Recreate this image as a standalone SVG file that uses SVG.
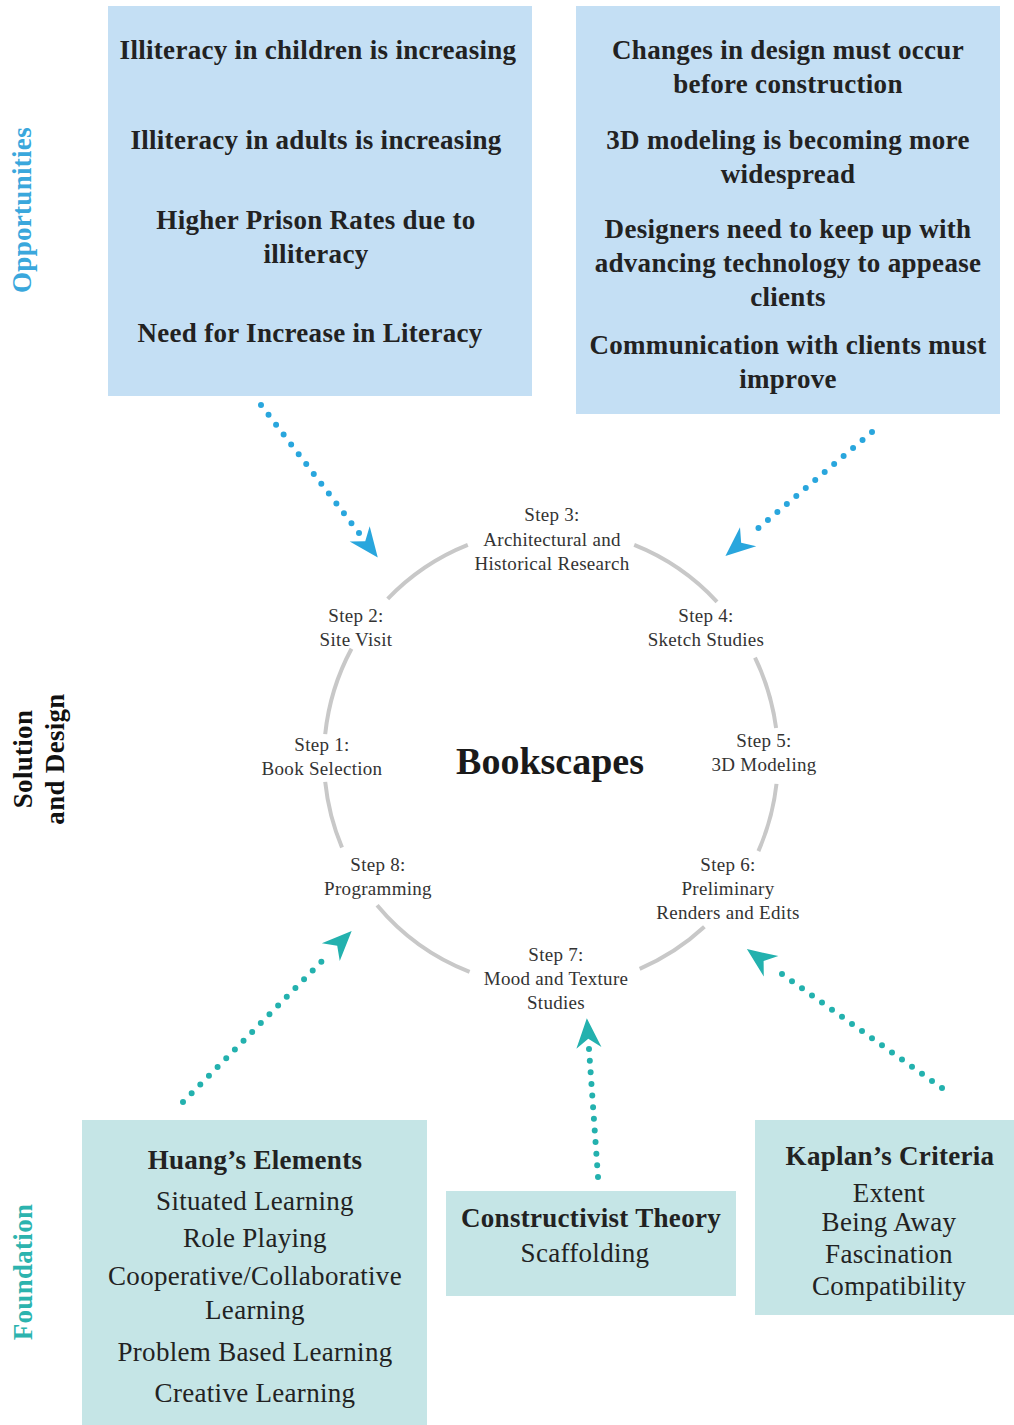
<svg xmlns="http://www.w3.org/2000/svg" width="1014" height="1425" viewBox="0 0 1014 1425">
<style>
  .bg { fill: #ffffff; }
  .boxB { fill: #c4dff4; }
  .boxT { fill: #c5e5e6; }
  .big { font-family: "Liberation Serif", "Times New Roman", serif; font-size: 27px; letter-spacing: 0.3px; fill: #222; text-anchor: middle; }
  .b { font-weight: bold; }
  .step { font-family: "Liberation Serif", "Times New Roman", serif; font-size: 19px; letter-spacing: 0.3px; fill: #333; text-anchor: middle; }
  .side { font-family: "Liberation Serif", "Times New Roman", serif; font-size: 27px; font-weight: bold; letter-spacing: 0.3px; text-anchor: middle; }
  .ring { fill: none; stroke: #c8c8c8; stroke-width: 4; }
  .dotB { fill: none; stroke: #29a6dd; stroke-width: 6; stroke-linecap: round; stroke-dasharray: 0 1; }
  .dotT { fill: none; stroke: #23b1ae; stroke-width: 6; stroke-linecap: round; stroke-dasharray: 0 1; }
</style>
<defs>
  <marker id="headB" markerUnits="userSpaceOnUse" markerWidth="40" markerHeight="40" viewBox="-5 -15 35 30" refX="0" refY="0" orient="auto">
    <path d="M27,0 L1,-11 L9,0 L1,11 Z" fill="#29a6dd"/>
  </marker>
  <marker id="headT" markerUnits="userSpaceOnUse" markerWidth="40" markerHeight="40" viewBox="-5 -15 35 30" refX="0" refY="0" orient="auto">
    <path d="M27,0 L1,-11 L9,0 L1,11 Z" fill="#23b1ae"/>
  </marker>
</defs>
<rect class="bg" x="0" y="0" width="1014" height="1425"/>

<!-- side labels -->
<text class="side" fill="#3aa7dc" transform="translate(31,210) rotate(-90)">Opportunities</text>
<g id="solution-label">
  <text class="side" fill="#111" transform="translate(32,759) rotate(-90)">Solution</text>
  <text class="side" fill="#111" transform="translate(64,759) rotate(-90)">and Design</text>
</g>
<text class="side" fill="#2cb3ae" transform="translate(32,1272) rotate(-90)">Foundation</text>

<!-- top boxes -->
<g id="opp-left">
  <rect class="boxB" x="108" y="6" width="424" height="390"/>
  <text class="big b" x="318" y="59">Illiteracy in children is increasing</text>
  <text class="big b" x="316" y="149">Illiteracy in adults is increasing</text>
  <text class="big b" x="316" y="229">Higher Prison Rates due to</text>
  <text class="big b" x="316" y="263">illiteracy</text>
  <text class="big b" x="310" y="342">Need for Increase in Literacy</text>
</g>
<g id="opp-right">
  <rect class="boxB" x="576" y="6" width="424" height="408"/>
  <text class="big b" x="788" y="59">Changes in design must occur</text>
  <text class="big b" x="788" y="93">before construction</text>
  <text class="big b" x="788" y="149">3D modeling is becoming more</text>
  <text class="big b" x="788" y="183">widespread</text>
  <text class="big b" x="788" y="238">Designers need to keep up with</text>
  <text class="big b" x="788" y="272">advancing technology to appease</text>
  <text class="big b" x="788" y="306">clients</text>
  <text class="big b" x="788" y="354">Communication with clients must</text>
  <text class="big b" x="788" y="388">improve</text>
</g>

<!-- cycle ring -->
<g id="ring">
  <path class="ring" d="M 634.2 544.9 A 227 229 0 0 1 717.0 601.8"/>
  <path class="ring" d="M 755.0 657.6 A 227 229 0 0 1 776.1 728.1"/>
  <path class="ring" d="M 776.5 783.9 A 227 229 0 0 1 758.4 851.1"/>
  <path class="ring" d="M 704.4 926.8 A 227 229 0 0 1 639.7 968.8"/>
  <path class="ring" d="M 469.6 971.8 A 227 229 0 0 1 377.1 905.2"/>
  <path class="ring" d="M 342.0 847.5 A 227 229 0 0 1 325.2 781.9"/>
  <path class="ring" d="M 325.2 734.1 A 227 229 0 0 1 351.5 648.7"/>
  <path class="ring" d="M 387.7 598.9 A 227 229 0 0 1 467.8 544.9"/>
</g>

<g id="center"><text x="550" y="774" font-family="Liberation Serif, Times New Roman, serif" font-size="38" font-weight="bold" fill="#1a1a1a" text-anchor="middle">Bookscapes</text></g>

<g id="step3"><text class="step" x="552" y="521">Step 3:</text><text class="step" x="552" y="546">Architectural and</text><text class="step" x="552" y="570">Historical Research</text></g>
<g id="step2"><text class="step" x="356" y="622">Step 2:</text><text class="step" x="356" y="646">Site Visit</text></g>
<g id="step4"><text class="step" x="706" y="622">Step 4:</text><text class="step" x="706" y="646">Sketch Studies</text></g>
<g id="step1"><text class="step" x="322" y="751">Step 1:</text><text class="step" x="322" y="775">Book Selection</text></g>
<g id="step5"><text class="step" x="764" y="747">Step 5:</text><text class="step" x="764" y="771">3D Modeling</text></g>
<g id="step8"><text class="step" x="378" y="871">Step 8:</text><text class="step" x="378" y="895">Programming</text></g>
<g id="step6"><text class="step" x="728" y="871">Step 6:</text><text class="step" x="728" y="895">Preliminary</text><text class="step" x="728" y="919">Renders and Edits</text></g>
<g id="step7"><text class="step" x="556" y="961">Step 7:</text><text class="step" x="556" y="985">Mood and Texture</text><text class="step" x="556" y="1009">Studies</text></g>

<!-- bottom boxes -->
<g id="huang">
  <rect class="boxT" x="82" y="1120" width="345" height="305"/>
  <text class="big b" x="255" y="1169">Huang’s Elements</text>
  <text class="big" x="255" y="1210">Situated Learning</text>
  <text class="big" x="255" y="1247">Role Playing</text>
  <text class="big" x="255" y="1285">Cooperative/Collaborative</text>
  <text class="big" x="255" y="1319">Learning</text>
  <text class="big" x="255" y="1361">Problem Based Learning</text>
  <text class="big" x="255" y="1402">Creative Learning</text>
</g>
<g id="constructivist">
  <rect class="boxT" x="446" y="1191" width="290" height="105"/>
  <text class="big b" x="591" y="1227">Constructivist Theory</text>
  <text class="big" x="585" y="1262">Scaffolding</text>
</g>
<g id="kaplan">
  <rect class="boxT" x="755" y="1120" width="259" height="195"/>
  <text class="big b" x="890" y="1165">Kaplan’s Criteria</text>
  <text class="big" x="889" y="1202">Extent</text>
  <text class="big" x="889" y="1231">Being Away</text>
  <text class="big" x="889" y="1263">Fascination</text>
  <text class="big" x="889" y="1295">Compatibility</text>
</g>

<!-- connectors -->
<g id="connectors">
  <path class="dotB" d="M 261 405 L 359 533" pathLength="13" marker-end="url(#headB)"/>
  <path class="dotB" d="M 872 432 L 749 536" pathLength="13" marker-end="url(#headB)"/>
  <path class="dotT" d="M 183 1102 L 330 953" pathLength="17" marker-end="url(#headT)"/>
  <path class="dotT" d="M 598 1177 L 589 1049" pathLength="11" marker-end="url(#headT)"/>
  <path class="dotT" d="M 942 1088 L 772 967" pathLength="17" marker-end="url(#headT)"/>
</g>
</svg>
